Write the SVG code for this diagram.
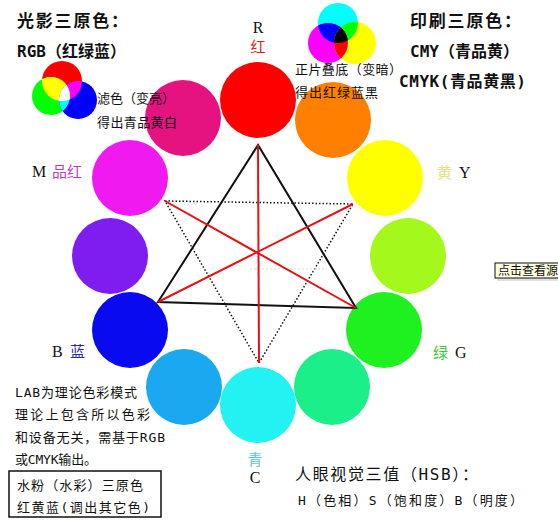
<svg xmlns="http://www.w3.org/2000/svg" width="558" height="521" viewBox="0 0 558 521">
<style>
.t{font-family:"DejaVu Sans Mono","Noto Sans CJK SC",monospace;fill:#111}
.h{font-size:17px;font-weight:600}
.s{font-size:13px}
.lbl{font-family:"Liberation Serif","Noto Sans CJK SC",serif;font-size:16px;fill:#111}
.cj{font-family:"Noto Sans CJK SC",serif;font-size:15px}
.dot{stroke:#111;stroke-width:1.5;stroke-dasharray:1.5 2;fill:none}
.cp{font-family:"Noto Sans CJK SC",sans-serif}
</style>
<defs>
<clipPath id="cG"><circle cx="51" cy="96" r="19"/></clipPath>
<clipPath id="cB"><circle cx="78" cy="100" r="19"/></clipPath>
<clipPath id="cM"><circle cx="328" cy="43" r="20"/></clipPath>
<clipPath id="cY"><circle cx="355" cy="43" r="21"/></clipPath>
</defs>
<rect width="558" height="521" fill="#fff"/>

<g id="wheel">
<circle id="c-red" cx="258" cy="100" r="38" fill="#ff0000"/>
<circle id="c-orange" cx="333" cy="120" r="38" fill="#ff7f00"/>
<circle id="c-yellow" cx="385" cy="178" r="38" fill="#ffff00"/>
<circle id="c-chartreuse" cx="408" cy="256" r="38" fill="#a4f81c"/>
<circle id="c-green" cx="384" cy="330" r="38" fill="#1ff01f"/>
<circle id="c-spring" cx="332" cy="387" r="38" fill="#1aef8a"/>
<circle id="c-cyan" cx="258" cy="405" r="38" fill="#22f2f2"/>
<circle id="c-azure" cx="184" cy="387" r="38" fill="#1aa8f0"/>
<circle id="c-blue" cx="130" cy="330" r="38" fill="#0a0af0"/>
<circle id="c-violet" cx="110" cy="256" r="38" fill="#7f1cf0"/>
<circle id="c-magenta" cx="130" cy="178" r="38" fill="#f01af0"/>
<circle id="c-rose" cx="183" cy="118" r="38" fill="#e5137f"/>
</g>

<g id="connectors">
<polygon points="258,145 158,302 356,308" fill="none" stroke="#111" stroke-width="2"/>
<polygon points="165,201 353,204 259,363" class="dot"/>
<line x1="250" y1="269" x2="327" y2="269" stroke="#ccc" stroke-width="1" stroke-dasharray="1.5 2.5"/>
<g stroke="#e81010" stroke-width="2">
<line x1="258" y1="145" x2="259" y2="363"/>
<line x1="165" y1="201" x2="356" y2="308"/>
<line x1="158" y1="302" x2="353" y2="204"/>
</g>
</g>

<g id="labels">
<text class="lbl" x="258" y="33" text-anchor="middle">R</text>
<text class="cj" x="258" y="52" text-anchor="middle" fill="#d42020">红</text>
<text class="lbl" x="32" y="177">M</text>
<text class="cj" x="52" y="177" fill="#c03ac0">品红</text>
<text class="cj" x="437" y="178" fill="#e4e07a">黄</text>
<text class="lbl" x="459" y="178">Y</text>
<text class="lbl" x="52" y="357">B</text>
<text class="cj" x="70" y="357" fill="#2a2aa8">蓝</text>
<text class="cj" x="433" y="358" fill="#40c840">绿</text>
<text class="lbl" x="455" y="358">G</text>
<text class="cj" x="255" y="465" text-anchor="middle" fill="#55cccc">青</text>
<text class="lbl" x="255" y="483" text-anchor="middle">C</text>
</g>

<g id="rgb-venn">
<circle cx="62" cy="81" r="20" fill="#ff0000"/>
<circle cx="51" cy="96" r="19" fill="#00ff00"/>
<circle cx="78" cy="100" r="19" fill="#0000ff"/>
<circle cx="62" cy="81" r="20" fill="#ffff00" clip-path="url(#cG)"/>
<circle cx="62" cy="81" r="20" fill="#ff00ff" clip-path="url(#cB)"/>
<circle cx="51" cy="96" r="19" fill="#00ffff" clip-path="url(#cB)"/>
<g clip-path="url(#cG)"><circle cx="62" cy="81" r="20" fill="#ffffff" clip-path="url(#cB)"/></g>
</g>

<g id="cmy-venn">
<circle cx="338" cy="23" r="20" fill="#00ffff"/>
<circle cx="328" cy="43" r="20" fill="#ff00ff"/>
<circle cx="355" cy="43" r="21" fill="#ffff00"/>
<circle cx="338" cy="23" r="20" fill="#0000ff" clip-path="url(#cM)"/>
<circle cx="338" cy="23" r="20" fill="#00ff00" clip-path="url(#cY)"/>
<circle cx="328" cy="43" r="20" fill="#ff0000" clip-path="url(#cY)"/>
<g clip-path="url(#cM)"><circle cx="338" cy="23" r="20" fill="#000" clip-path="url(#cY)"/></g>
</g>

<g id="text-left">
<text class="t h" x="17" y="27" style="letter-spacing:1.8px">光影三原色：</text>
<text class="t h" x="17" y="57" style="font-size:16px">RGB（红绿蓝<tspan class="cp">）</tspan></text>
<text class="t s" x="97" y="103" textLength="78">滤色（变亮）</text>
<text class="t s" x="97" y="127" textLength="80">得出青品黄白</text>
</g>

<g id="text-right">
<text class="t h" x="410" y="27" style="letter-spacing:1.8px">印刷三原色：</text>
<text class="t h" x="410" y="57" style="font-size:16px">CMY（青品黄<tspan class="cp">）</tspan></text>
<text class="t h" x="399" y="87" textLength="127" style="font-size:16px">CMYK(青品黄黑)</text>
<text class="t s" x="295" y="74" textLength="107">正片叠底（变暗）</text>
<text class="t s" x="295" y="97" textLength="83">得出红绿蓝黑</text>
</g>

<g id="text-lab">
<text class="t s" x="15" y="397" textLength="122">LAB为理论色彩模式</text>
<text class="t s" x="15" y="419" textLength="135">理论上包含所以色彩</text>
<text class="t s" x="15" y="442" textLength="150">和设备无关，需基于RGB</text>
<text class="t s" x="15" y="464" textLength="82">或CMYK输出。</text>
</g>

<g id="paint-box">
<rect x="9" y="471" width="152" height="46" fill="#fff" stroke="#111" stroke-width="1.5"/>
<text class="t s" x="17" y="490" textLength="126">水粉（水彩）三原色</text>
<text class="t s" x="17" y="512" textLength="133">红黄蓝(调出其它色)</text>
</g>

<g id="hsb">
<text class="t" x="295" y="480" textLength="183" style="font-size:16px">人眼视觉三值（HSB）：</text>
<text class="t s" x="298" y="505" textLength="225">H（色相）S（饱和度）B（明度）</text>
</g>

<g id="tooltip">
<rect x="497" y="265" width="70" height="16" fill="#ccc" opacity="0.6"/>
<rect x="495" y="263" width="70" height="15" fill="#ffffe1" stroke="#111" stroke-width="1"/>
<text x="498" y="275" style="font-family:'Noto Sans CJK SC',sans-serif;font-size:12px;fill:#111">点击查看源</text>
</g>
</svg>
